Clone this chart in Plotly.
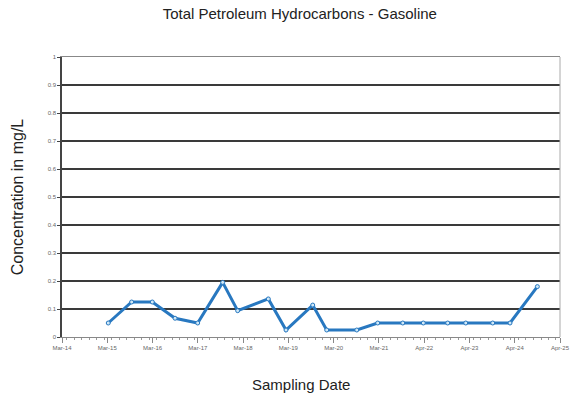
import plotly.graph_objects as go

sample_dates = ["2015-04-04", "2015-10-10", "2016-03-25", "2016-09-25", "2017-03-27",
                "2017-10-15", "2018-02-13", "2018-10-19", "2019-03-11", "2019-10-13",
                "2020-02-03", "2020-10-03", "2021-03-21", "2021-10-10", "2022-03-25",
                "2022-10-08", "2023-03-03", "2023-10-07", "2024-02-24", "2024-10-02"]
tph_gasoline = [0.05, 0.125, 0.125, 0.067, 0.05,
                0.195, 0.094, 0.136, 0.025, 0.114,
                0.025, 0.025, 0.05, 0.05, 0.05,
                0.05, 0.05, 0.05, 0.05, 0.18]

tick_dates = ["2014-03-26", "2015-03-27", "2016-03-27", "2017-03-28", "2018-03-29",
              "2019-03-30", "2020-03-30", "2021-03-31", "2022-04-01", "2023-04-02",
              "2024-04-02", "2025-04-03"]
tick_labels = ["Mar-14", "Mar-15", "Mar-16", "Mar-17", "Mar-18", "Mar-19", "Mar-20",
               "Mar-21", "Apr-22", "Apr-23", "Apr-24", "Apr-25"]
y_ticks = [0, 0.1, 0.2, 0.3, 0.4, 0.5, 0.6, 0.7, 0.8, 0.9, 1]
y_labels = ["0", "0.1", "0.2", "0.3", "0.4", "0.5", "0.6", "0.7", "0.8", "0.9", "1"]

fig = go.Figure()
fig.add_trace(go.Scatter(
    x=sample_dates, y=tph_gasoline, mode="lines+markers",
    line=dict(color="#2878c0", width=3),
    marker=dict(size=4, color="#cfe8f7", line=dict(color="#2878c0", width=1)),
    showlegend=False,
))

fig.update_layout(
    width=571, height=403,
    margin=dict(l=62, r=11, t=57, b=66, autoexpand=False),
    paper_bgcolor="white", plot_bgcolor="white",
    font=dict(family="Liberation Sans, Arial, sans-serif", color="#333333"),
    title=dict(text="Total Petroleum Hydrocarbons - Gasoline", x=0.525, xanchor="center",
               y=0.965, yanchor="middle", font=dict(size=15, color="#222222")),
    xaxis=dict(
        type="date", range=[tick_dates[0], tick_dates[-1]], automargin=False,
        tickmode="array", tickvals=tick_dates, ticktext=tick_labels,
        tickfont=dict(size=6, color="#666666"),
        showgrid=False, showline=True, linecolor="#888888", linewidth=1,
        ticks="outside", ticklen=5, tickcolor="#888888",
        minor=dict(ticks="outside", ticklen=2, tickcolor="#999999", dtick="M2"),
        mirror=True, zeroline=False,
    ),
    yaxis=dict(
        range=[0, 1], automargin=False,
        tickmode="array", tickvals=y_ticks, ticktext=y_labels,
        tickfont=dict(size=6, color="#666666"),
        showgrid=True, gridcolor="#3a3a3a", gridwidth=1.5,
        showline=True, linecolor="#444444", linewidth=1.5,
        ticks="outside", ticklen=3, tickcolor="#444444",
        zeroline=False,
        title=dict(text="Concentration in mg/L", font=dict(size=16, color="#222222"), standoff=20),
    ),
)
fig.add_annotation(text="Sampling Date", xref="paper", yref="paper", x=0.48, y=-0.17,
                   xanchor="center", yanchor="middle", showarrow=False,
                   font=dict(size=15, color="#222222"))
fig.add_shape(type="line", xref="paper", yref="paper", x0=1, x1=1, y0=0, y1=1,
              line=dict(color="#aaaaaa", width=1))

fig.write_html("out.html", config={"displayModeBar": False},
               post_script="document.body.style.margin='0';")
